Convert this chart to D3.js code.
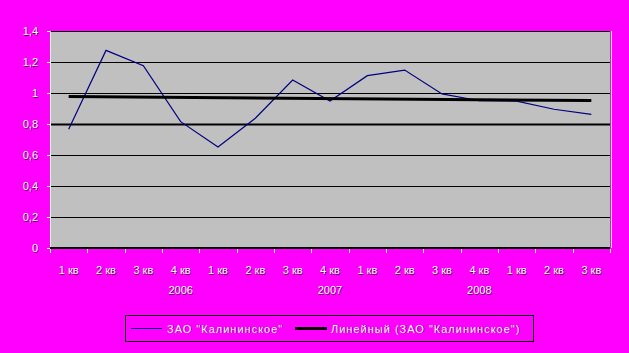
<!DOCTYPE html>
<html><head><meta charset="utf-8">
<script src="https://cdn.jsdelivr.net/npm/d3@7"></script>
<style>
html,body{margin:0;padding:0;background:#ff00ff;}
text{font-family:"Liberation Sans",Arial,sans-serif;font-size:11px;fill:#fff;text-shadow:0.6px 0.6px 0 rgba(0,0,0,0.7);}
</style></head><body>
<svg id="c" width="629" height="353"></svg>
<script>
const categories = ["1 кв","2 кв","3 кв","4 кв","1 кв","2 кв","3 кв","4 кв","1 кв","2 кв","3 кв","4 кв","1 кв","2 кв","3 кв"];
const yearLabels = [{idx:3,label:"2006"},{idx:7,label:"2007"},{idx:11,label:"2008"}];
const values = [0.766,1.275,1.176,0.815,0.652,0.837,1.084,0.948,1.112,1.148,0.994,0.95,0.948,0.895,0.862];
const yTicks = [0,0.2,0.4,0.6,0.8,1,1.2,1.4];
const seriesName = 'ЗАО "Калининское"';
const trendName = 'Линейный (ЗАО "Калининское")';

const svg = d3.select("#c");
const L=50,R=610,T=31,B=248;
const x = d3.scaleBand().domain(d3.range(categories.length)).range([L,R]);
const y = d3.scaleLinear().domain([0,1.4]).range([B,T]);
const fmt = d => String(+d.toFixed(1)).replace(".",",");

svg.append("rect").attr("x",L).attr("y",T).attr("width",R-L).attr("height",B-T).attr("fill","#c0c0c0");
svg.append("line").attr("x1",R+1.5).attr("x2",R+1.5).attr("y1",T).attr("y2",B).attr("stroke","#fff").attr("stroke-width",1);

// gridlines
svg.append("g").selectAll("line").data(yTicks.filter(d=>d>0)).join("line")
  .attr("x1",L).attr("x2",R).attr("y1",d=>Math.round(y(d))+0.5).attr("y2",d=>Math.round(y(d))+0.5)
  .attr("stroke","#000").attr("stroke-width",d=>Math.abs(d-0.8)<1e-9?2:1);

// y axis
const ya = svg.append("g").attr("transform",`translate(${L},0)`)
  .call(d3.axisLeft(y).tickValues(yTicks).tickSize(3).tickPadding(9).tickFormat(fmt));
ya.select(".domain").attr("stroke","#fff");
ya.selectAll(".tick line").attr("stroke","#fff");
ya.selectAll("text").attr("fill","#fff").style("font-size","11px").style("font-family","Liberation Sans, Arial");

// x axis baseline
svg.append("line").attr("x1",L).attr("x2",R).attr("y1",B).attr("y2",B).attr("stroke","#000").attr("stroke-width",2);
// x ticks at boundaries
const bounds = d3.range(categories.length+1).map(i=>L+i*x.bandwidth());
svg.append("g").selectAll("line").data(bounds).join("line")
  .attr("x1",d=>Math.round(d)+0.5).attr("x2",d=>Math.round(d)+0.5).attr("y1",B+1).attr("y2",B+5)
  .attr("stroke","#fff");
svg.append("g").selectAll("text").data(categories).join("text")
  .attr("x",(d,i)=>x(i)+x.bandwidth()/2).attr("y",274).attr("text-anchor","middle").text(d=>d);
svg.append("g").selectAll("text").data(yearLabels).join("text")
  .attr("x",d=>x(d.idx)+x.bandwidth()/2).attr("y",294).attr("text-anchor","middle").text(d=>d.label);

// trend line (least squares)
const n=values.length, xs=d3.range(1,n+1);
const mx=d3.mean(xs), my=d3.mean(values);
const slope=d3.sum(xs,(v,i)=>(v-mx)*(values[i]-my))/d3.sum(xs,v=>(v-mx)*(v-mx));
const icpt=my-slope*mx;
const cx = i=>x(i)+x.bandwidth()/2;

const line = d3.line().x((d,i)=>cx(i)).y(d=>y(d));
svg.append("path").datum(values).attr("d",line).attr("fill","none").attr("stroke","#000080").attr("stroke-width",1.2);
svg.append("line").attr("x1",cx(0)).attr("x2",cx(n-1))
  .attr("y1",y(icpt+slope*1)).attr("y2",y(icpt+slope*n)).attr("stroke","#000").attr("stroke-width",3);

// legend
const lg = svg.append("g");
lg.append("rect").attr("x",125.5).attr("y",315.5).attr("width",408).attr("height",26).attr("fill","none").attr("stroke","#000");
lg.append("line").attr("x1",131).attr("x2",162).attr("y1",328.5).attr("y2",328.5).attr("stroke","#000080").attr("stroke-width",1);
lg.append("text").attr("x",167).attr("y",332.5).style("letter-spacing","1px").text(seriesName);
lg.append("line").attr("x1",295).attr("x2",327).attr("y1",328.5).attr("y2",328.5).attr("stroke","#000").attr("stroke-width",3);
lg.append("text").attr("x",331).attr("y",332.5).style("letter-spacing","1px").text(trendName);
</script></body></html>
